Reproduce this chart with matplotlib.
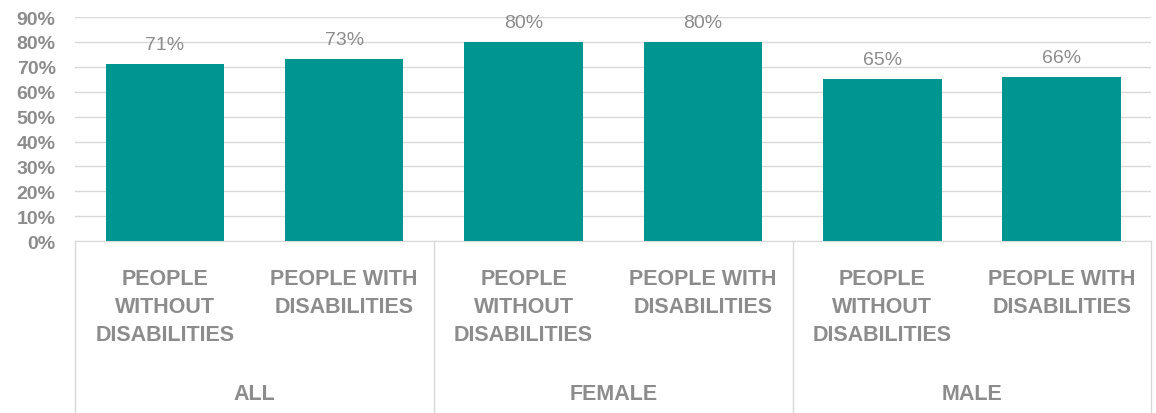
import matplotlib.pyplot as plt
import numpy as np
from matplotlib.transforms import blended_transform_factory

# Data
groups = ['ALL', 'FEMALE', 'MALE']
subgroups = ['PEOPLE\nWITHOUT\nDISABILITIES', 'PEOPLE WITH\nDISABILITIES']
values = [0.71, 0.73, 0.80, 0.80, 0.65, 0.66]
yticks = [0, 10, 20, 30, 40, 50, 60, 70, 80, 90]

bar_color = '#00968F'
text_color = '#8c8c8c'
grid_color = '#d9d9d9'

plt.rcParams['font.family'] = ['Liberation Sans', 'DejaVu Sans']

fig = plt.figure(figsize=(11.56, 4.14), dpi=100)
ax = fig.add_axes([0.065, 0.415, 0.931, 0.5415])

x = np.arange(len(values))
ax.bar(x, values, width=0.66, color=bar_color, zorder=3)

for xi, v in zip(x, values):
    ax.text(xi, v + 0.045, f'{v * 100:.0f}%', ha='center', va='bottom',
            fontsize=14, color=text_color)

ax.set_xlim(-0.5, len(values) - 0.5)
ax.set_ylim(0, 0.9)
ax.set_yticks([t / 100 for t in yticks])
ax.set_yticklabels([f'{t}%' for t in yticks],
                   fontsize=14, fontweight='bold', color=text_color)
ax.tick_params(axis='y', length=0, pad=14)
ax.yaxis.grid(True, color=grid_color, linewidth=1, zorder=0)
ax.set_xticks([])
for s in ['top', 'right', 'left']:
    ax.spines[s].set_visible(False)
ax.spines['bottom'].set_color(grid_color)

# Hierarchical category labels
trans = blended_transform_factory(ax.transData, ax.transAxes)
for i, xi in enumerate(x):
    ax.text(xi, -0.12, subgroups[i % 2], transform=trans, ha='center', va='top',
            fontsize=15.5, fontweight='bold', color=text_color, linespacing=1.45)
for g, name in enumerate(groups):
    ax.text(2 * g + 0.5, -0.68, name, transform=trans, ha='center', va='center',
            fontsize=15.5, fontweight='bold', color=text_color)
for sx in np.arange(-0.5, len(values), 2):
    ax.plot([sx, sx], [0, -0.78], transform=trans, color=grid_color,
            linewidth=1, clip_on=False)

plt.savefig('out.png', dpi=100, facecolor='white')
